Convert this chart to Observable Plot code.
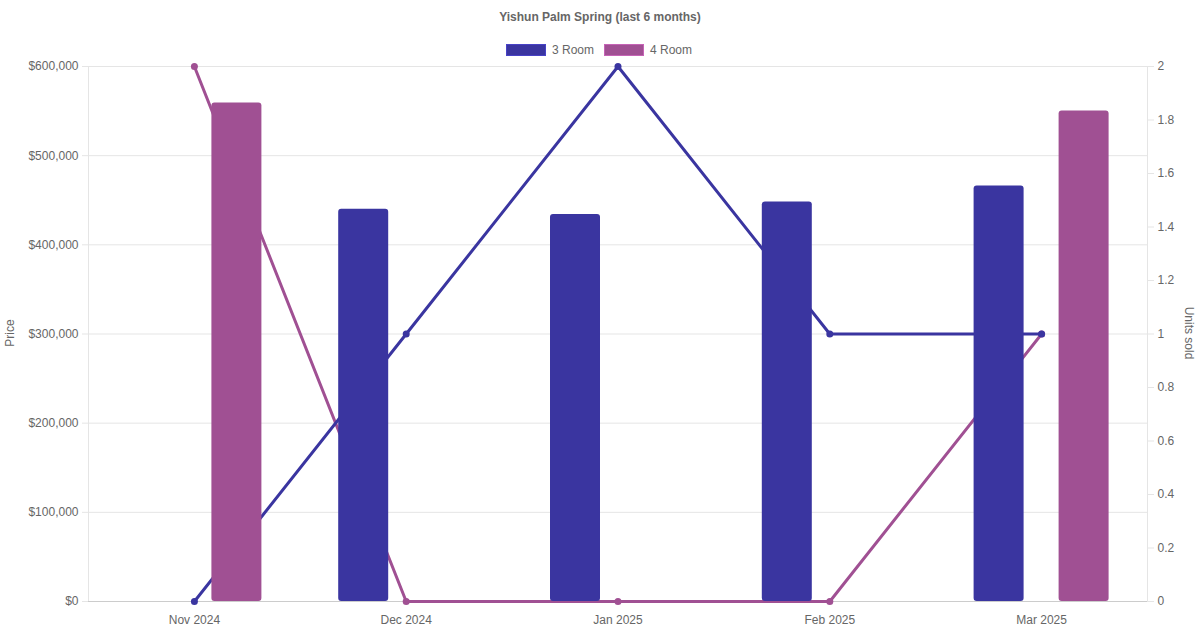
<!DOCTYPE html>
<html><head><meta charset="utf-8">
<script src="https://cdn.jsdelivr.net/npm/d3@7"></script>
<script src="https://cdn.jsdelivr.net/npm/@observablehq/plot@0.6"></script>
<style>
body{margin:0;background:#fff;font-family:"Liberation Sans",Arial,Helvetica,sans-serif;}
#wrap{position:relative;width:1200px;height:630px;overflow:hidden;}
#title{position:absolute;top:10px;left:0;width:1200px;text-align:center;font-weight:bold;font-size:12px;color:#666;line-height:14px;}
#legend{position:absolute;top:43px;left:-1px;width:1200px;display:flex;justify-content:center;font-size:12px;color:#666;line-height:14px;}
.item{display:flex;align-items:center;margin:0 5px;}
.sw{width:40px;height:12px;margin-right:6px;box-sizing:border-box;}
.ylab{position:absolute;font-size:12px;color:#666;white-space:nowrap;}
#chart{position:absolute;top:0;left:0;}
</style></head>
<body>
<div id="wrap">
  <div id="chart"></div>
  <div id="title"></div>
  <div id="legend"></div>
  <div class="ylab" id="leftlab" style="left:-4px;top:326px;transform:rotate(-90deg);transform-origin:center;">Price</div>
  <div class="ylab" id="rightlab" style="left:1163px;top:326px;transform:rotate(90deg);transform-origin:center;">Units sold</div>
</div>
<script>
const title = "Yishun Palm Spring (last 6 months)";
const months = ["Nov 2024", "Dec 2024", "Jan 2025", "Feb 2025", "Mar 2025"];
const seriesNames = ["3 Room", "4 Room"];
const colors = ["#3a35a0", "#a05093"];
const price3 = [null, 440000, 434000, 448000, 466000];
const price4 = [559000, null, null, null, 550000];
const units3 = [0, 1, 2, 1, 1];
const units4 = [2, 0, 0, 0, 1];
const priceTicks = [0, 100000, 200000, 300000, 400000, 500000, 600000];
const unitTicks = [0, 0.2, 0.4, 0.6, 0.8, 1, 1.2, 1.4, 1.6, 1.8, 2];

const unitMax = 2, priceMax = 600000;
const k = priceMax / unitMax;

document.getElementById("title").textContent = title;
const leg = document.getElementById("legend");
seriesNames.forEach((s, i) => {
  const it = document.createElement("div"); it.className = "item";
  const sw = document.createElement("div"); sw.className = "sw";
  sw.style.background = colors[i];
  sw.style.border = "1px solid " + d3.color(colors[i]).brighter(0.6);
  const t = document.createElement("span"); t.textContent = s;
  it.appendChild(sw); it.appendChild(t); leg.appendChild(it);
});

const rows = months.map((m, i) => ({month: m, p3: price3[i], p4: price4[i], u3: units3[i], u4: units4[i]}));

const W = 1200, H = 630, mL = 88, mR = 53;
const band = (W - mL - mR) / months.length;
const barW = 50, inset = (band - barW) / 2, off = 42.5;
const fmtPrice = d3.format("$,");
const fmtUnit = d3.format(".1~f");

const chart = Plot.plot({
  width: W, height: H,
  marginTop: 66, marginBottom: 29, marginLeft: mL, marginRight: mR,
  x: {domain: months, padding: 0, round: false, axis: null},
  y: {domain: [0, priceMax], axis: null},
  style: {fontFamily: '"Liberation Sans", Arial, sans-serif', fontSize: "12px", color: "#666", background: "#fff"},
  marks: [
    Plot.gridY(priceTicks, {stroke: "#e5e5e5", strokeOpacity: 1}),
    Plot.frame({stroke: "#e5e5e5"}),
    Plot.axisY(priceTicks, {anchor: "left", tickFormat: fmtPrice, tickSize: 6, tickPadding: 4, stroke: "#e5e5e5", fill: "#666", label: null}),
    Plot.axisY(unitTicks.map(u => u * k), {anchor: "right", tickFormat: d => fmtUnit(d / k), tickSize: 6, tickPadding: 4, stroke: "#e5e5e5", fill: "#666", label: null}),
    Plot.axisX(months, {anchor: "bottom", tickSize: 0, tickPadding: 14, fill: "#666", label: null}),
    Plot.ruleY([0], {stroke: "#cccccc"}),
    Plot.line(rows, {x: "month", y: d => d.u4 * k, stroke: colors[1], strokeWidth: 3}),
    Plot.dot(rows, {x: "month", y: d => d.u4 * k, fill: colors[1], r: 3.5}),
    Plot.line(rows, {x: "month", y: d => d.u3 * k, stroke: colors[0], strokeWidth: 3}),
    Plot.dot(rows, {x: "month", y: d => d.u3 * k, fill: colors[0], r: 3.5}),
    Plot.barY(rows.filter(d => d.p3 != null), {x: "month", y: "p3", fill: colors[0], insetLeft: inset, insetRight: inset, dx: -off, rx: 3}),
    Plot.barY(rows.filter(d => d.p4 != null), {x: "month", y: "p4", fill: colors[1], insetLeft: inset, insetRight: inset, dx: off, rx: 3})
  ]
});
document.getElementById("chart").appendChild(chart);
</script>
</body></html>
